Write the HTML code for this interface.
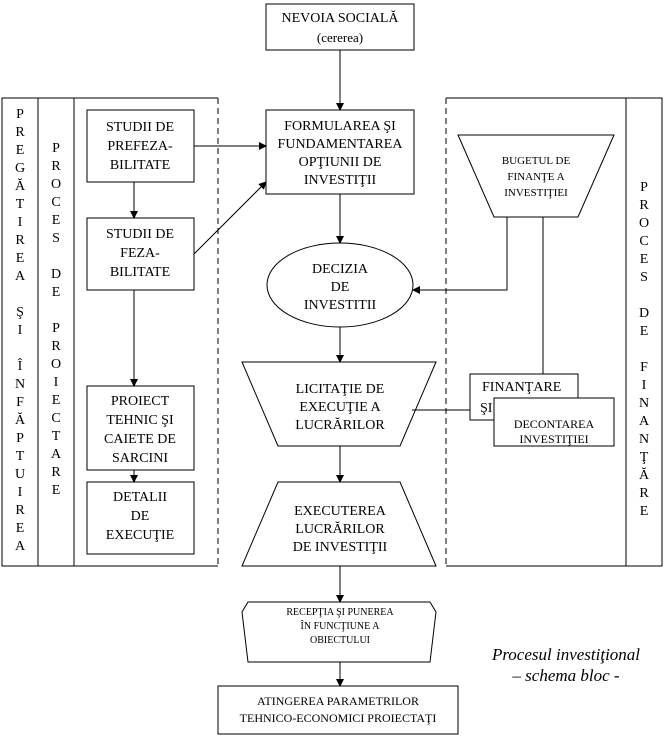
<!DOCTYPE html>
<html><head><meta charset="utf-8"><style>
body{margin:0;background:#fff;}
svg text{font-family:"Liberation Serif",serif;fill:#000;}
</style></head><body>
<svg width="666" height="738" viewBox="0 0 666 738" xmlns="http://www.w3.org/2000/svg">
<defs><marker id="a" markerWidth="8" markerHeight="8" refX="7" refY="4" orient="auto" markerUnits="userSpaceOnUse"><path d="M0,0 L8,4 L0,8 z" fill="#000"/></marker></defs>
<g fill="none" stroke="#000" stroke-width="1">
<path d="M218,98 H2 V566 H218"/>
<line x1="218" y1="98" x2="218" y2="566" stroke-dasharray="6,4"/>
<line x1="38" y1="98" x2="38" y2="566"/>
<line x1="74" y1="98" x2="74" y2="566"/>
<rect x="87" y="110" width="107" height="72"/>
<rect x="87" y="218" width="107" height="72"/>
<rect x="87" y="386" width="107" height="84"/>
<rect x="87" y="482" width="107" height="72"/>
<path d="M446,98 H662 V566 H446"/>
<line x1="446" y1="98" x2="446" y2="566" stroke-dasharray="6,4"/>
<line x1="626" y1="98" x2="626" y2="566"/>
<polygon points="458,135 614,135 578,217 494,217"/>
<rect x="470" y="374" width="108" height="46"/>
<rect x="494" y="398" width="120" height="48" fill="#fff"/>
<rect x="266" y="4" width="148" height="46"/>
<rect x="266" y="110" width="148" height="84"/>
<ellipse cx="340" cy="285" rx="73" ry="42"/>
<polygon points="242,362 436,362 400,446 278,446"/>
<polygon points="278,482 400,482 436,566 242,566"/>
<polygon points="248,602 430,602 436,612 430,662 248,662 242,612"/>
<rect x="218" y="686" width="240" height="48"/>
<line x1="340" y1="50" x2="340" y2="110" marker-end="url(#a)"/>
<line x1="340" y1="194" x2="340" y2="243" marker-end="url(#a)"/>
<line x1="340" y1="327" x2="340" y2="362" marker-end="url(#a)"/>
<line x1="340" y1="446" x2="340" y2="482" marker-end="url(#a)"/>
<line x1="340" y1="566" x2="340" y2="602" marker-end="url(#a)"/>
<line x1="340" y1="662" x2="340" y2="686" marker-end="url(#a)"/>
<line x1="194" y1="146" x2="266" y2="146" marker-end="url(#a)"/>
<line x1="194" y1="254" x2="266" y2="182" marker-end="url(#a)"/>
<line x1="134" y1="182" x2="134" y2="218" marker-end="url(#a)"/>
<line x1="134" y1="290" x2="134" y2="386" marker-end="url(#a)"/>
<line x1="134" y1="470" x2="134" y2="482" marker-end="url(#a)"/>
<path d="M507,217 V290 H413" marker-end="url(#a)"/>
<line x1="543" y1="217" x2="543" y2="374"/>
<line x1="412" y1="410" x2="470" y2="410"/>
</g>
<g font-size="14" text-anchor="middle">
<text x="340" y="22">NEVOIA SOCIALĂ</text>
<text x="340" y="42" font-size="13">(cererea)</text>
<text x="340" y="130">FORMULAREA ŞI</text>
<text x="340" y="148">FUNDAMENTAREA</text>
<text x="340" y="166">OPŢIUNII DE</text>
<text x="340" y="184">INVESTIŢII</text>
<text x="340" y="273">DECIZIA</text>
<text x="340" y="291">DE</text>
<text x="340" y="309">INVESTITII</text>
<text x="340" y="393">LICITAŢIE DE</text>
<text x="340" y="411">EXECUŢIE A</text>
<text x="340" y="429">LUCRĂRILOR</text>
<text x="340" y="515">EXECUTEREA</text>
<text x="340" y="533">LUCRĂRILOR</text>
<text x="340" y="551">DE INVESTIŢII</text>
<text x="340" y="615" font-size="10">RECEPŢIA ŞI PUNEREA</text>
<text x="340" y="629" font-size="10">ÎN FUNCŢIUNE A</text>
<text x="340" y="643" font-size="10">OBIECTULUI</text>
<text x="338" y="705" font-size="12">ATINGEREA PARAMETRILOR</text>
<text x="338" y="722" font-size="12">TEHNICO-ECONOMICI PROIECTAŢI</text>
<text x="140" y="131">STUDII DE</text>
<text x="140" y="150">PREFEZA-</text>
<text x="140" y="169">BILITATE</text>
<text x="140" y="238">STUDII DE</text>
<text x="140" y="257">FEZA-</text>
<text x="140" y="276">BILITATE</text>
<text x="140" y="405">PROIECT</text>
<text x="140" y="424">TEHNIC ŞI</text>
<text x="140" y="443">CAIETE DE</text>
<text x="140" y="462">SARCINI</text>
<text x="140" y="501">DETALII</text>
<text x="140" y="520">DE</text>
<text x="140" y="539">EXECUŢIE</text>
<text x="536" y="164" font-size="11">BUGETUL DE</text>
<text x="536" y="180" font-size="11">FINANŢE A</text>
<text x="536" y="196" font-size="11">INVESTIŢIEI</text>
<text x="554" y="428" font-size="12">DECONTAREA</text>
<text x="554" y="443" font-size="12">INVESTIŢIEI</text>
</g>
<text x="482" y="391" font-size="14">FINANŢARE</text>
<text x="480" y="412" font-size="14">ŞI</text>
<g font-size="14" text-anchor="middle">
<text x="20" y="118">P</text><text x="20" y="136">R</text><text x="20" y="154">E</text><text x="20" y="172">G</text><text x="20" y="190">Ă</text><text x="20" y="208">T</text><text x="20" y="226">I</text><text x="20" y="244">R</text><text x="20" y="262">E</text><text x="20" y="280">A</text>
<text x="20" y="316">Ş</text><text x="20" y="334">I</text>
<text x="20" y="370">Î</text><text x="20" y="388">N</text><text x="20" y="406">F</text><text x="20" y="424">Ă</text><text x="20" y="442">P</text><text x="20" y="460">T</text><text x="20" y="478">U</text><text x="20" y="496">I</text><text x="20" y="514">R</text><text x="20" y="532">E</text><text x="20" y="550">A</text>
<text x="56" y="152">P</text><text x="56" y="170">R</text><text x="56" y="188">O</text><text x="56" y="206">C</text><text x="56" y="224">E</text><text x="56" y="242">S</text>
<text x="56" y="278">D</text><text x="56" y="296">E</text>
<text x="56" y="332">P</text><text x="56" y="350">R</text><text x="56" y="368">O</text><text x="56" y="386">I</text><text x="56" y="404">E</text><text x="56" y="422">C</text><text x="56" y="440">T</text><text x="56" y="458">A</text><text x="56" y="476">R</text><text x="56" y="494">E</text>
<text x="644" y="191">P</text><text x="644" y="209">R</text><text x="644" y="227">O</text><text x="644" y="245">C</text><text x="644" y="263">E</text><text x="644" y="281">S</text>
<text x="644" y="317">D</text><text x="644" y="335">E</text>
<text x="644" y="371">F</text><text x="644" y="389">I</text><text x="644" y="407">N</text><text x="644" y="425">A</text><text x="644" y="443">N</text><text x="644" y="461">Ţ</text><text x="644" y="479">Ă</text><text x="644" y="497">R</text><text x="644" y="515">E</text>
<text x="566" y="660" font-style="italic" font-size="17">Procesul investiţional</text>
<text x="566" y="681" font-style="italic" font-size="17">– schema bloc -</text>
</g>
</svg>
</body></html>
